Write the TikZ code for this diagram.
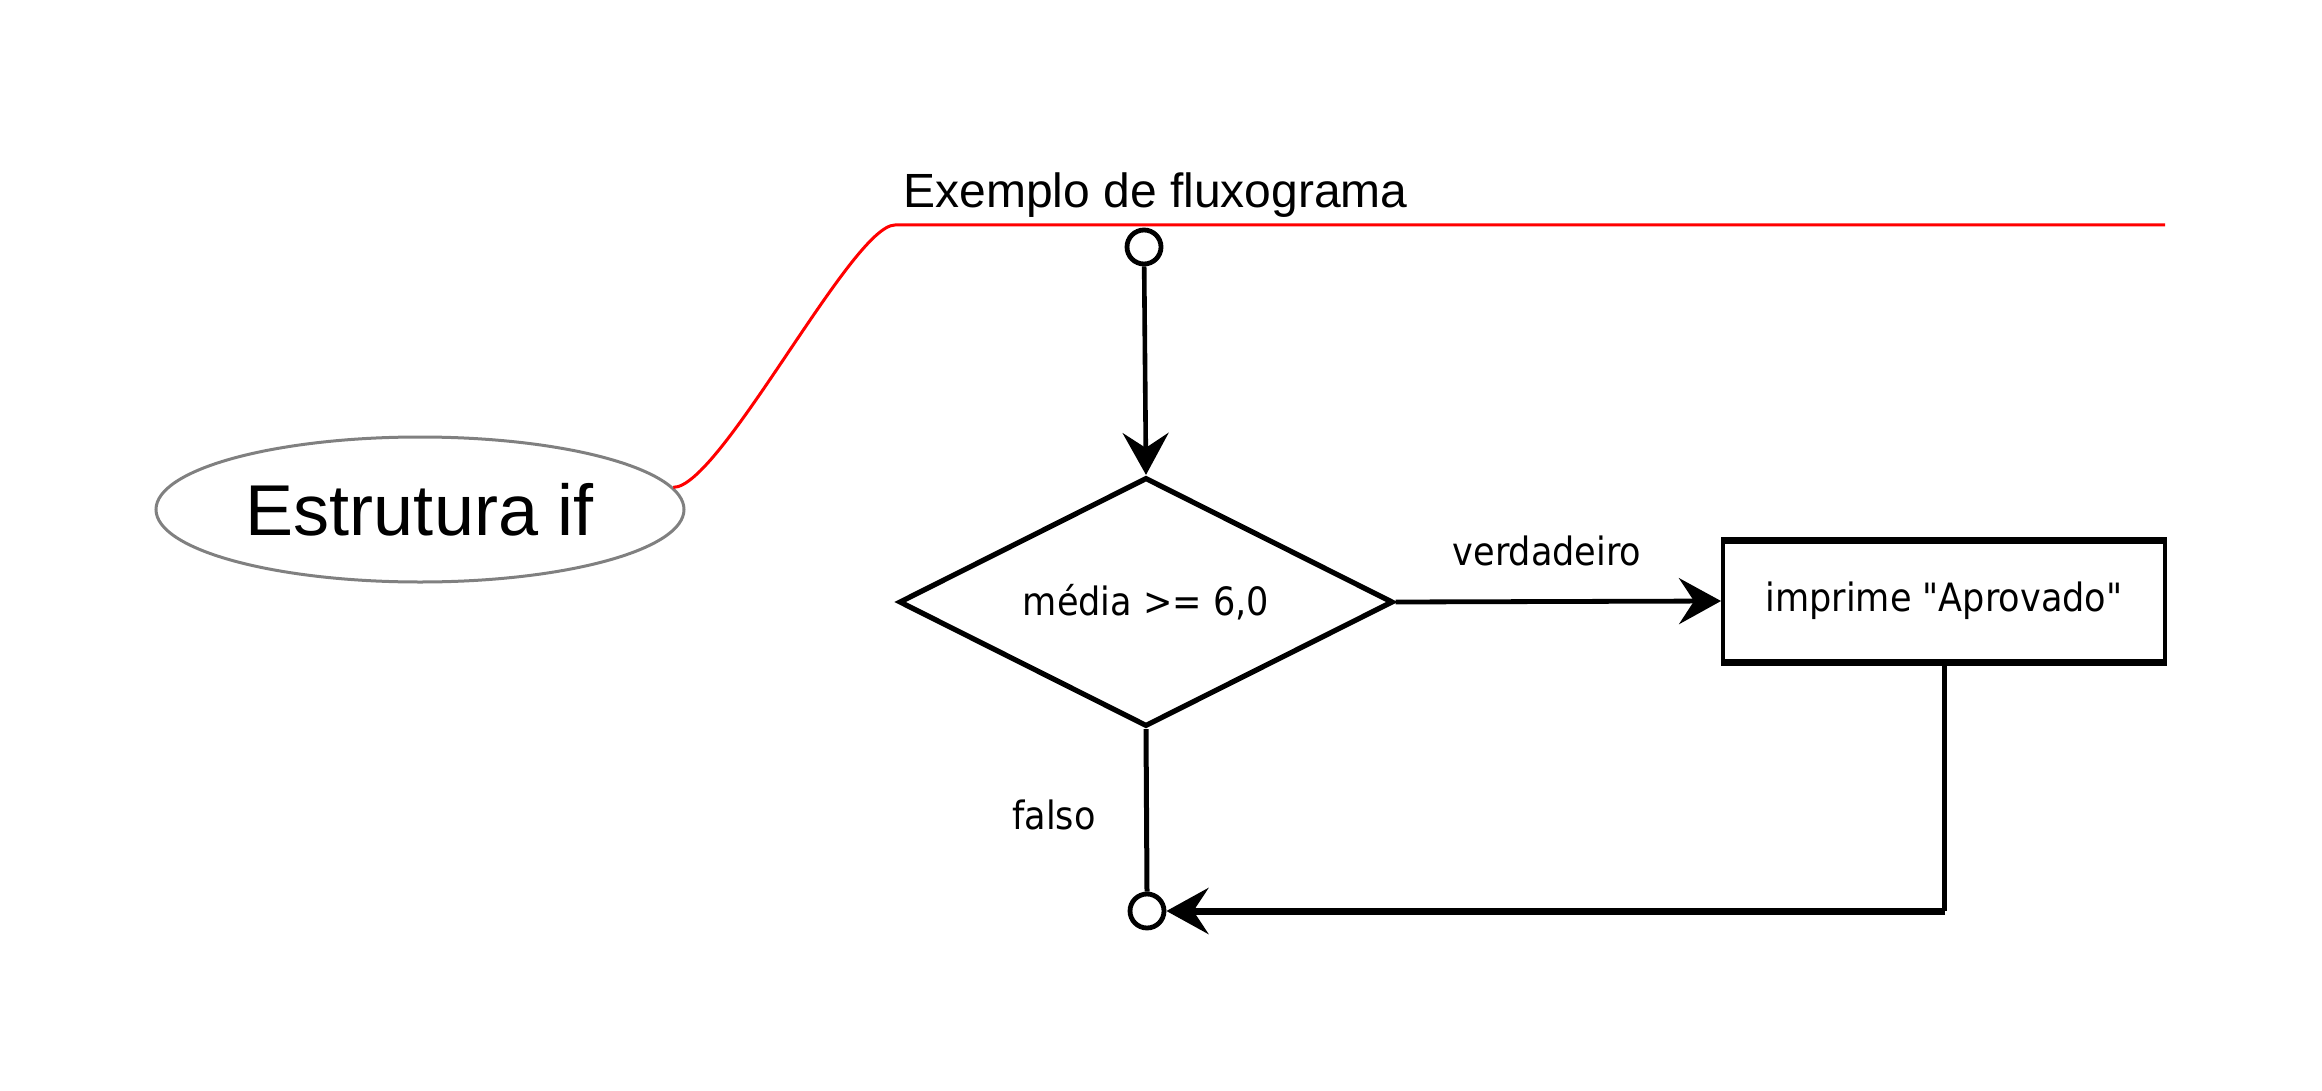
\documentclass[tikz,border=0pt]{standalone}
\usepackage{fontspec}
\setmainfont{Liberation Sans}
\newfontfamily\flowfont[FakeStretch=0.9]{DejaVu Sans}
\usetikzlibrary{shapes.geometric,arrows.meta,calc}
\definecolor{ellgray}{HTML}{808080}
\definecolor{linkred}{HTML}{FF0000}
\tikzset{
  mindnode/.style={ellipse, draw=ellgray, line width=1.5pt, minimum width=264pt,
    minimum height=72.5pt, inner sep=0pt, font=\fontsize{36pt}{40pt}\selectfont},
  titletext/.style={inner sep=0pt, anchor=base west, font=\fontsize{24pt}{29pt}\selectfont},
  link/.style={draw=linkred, line width=1.5pt},
  termcirc/.style={circle, draw=black, fill=white, line width=2.4pt, minimum size=17pt, inner sep=0pt},
  decision/.style={diamond, aspect=2, draw=black, line width=2.6pt, minimum width=247pt,
    minimum height=124.5pt, inner sep=0pt, font=\flowfont\fontsize{19.5pt}{23pt}\selectfont},
  process/.style={rectangle, draw=black, line width=2pt, minimum width=221pt,
    minimum height=59.5pt, inner sep=0pt, font=\flowfont\fontsize{19.5pt}{23pt}\selectfont},
  flowlabel/.style={inner sep=0pt, anchor=base, font=\flowfont\fontsize{19.5pt}{23pt}\selectfont},
  bigtip/.style={-{Stealth[length=21pt,width=23pt,inset=7.5pt]}},
}
\begin{document}
\begin{tikzpicture}[x=0.5pt,y=-0.5pt]
\useasboundingbox (0,0) rectangle (2322,1091);

% mind-map part
\node[mindnode] (ell) at (420,509.5) {Estrutura if};
\coordinate (tl) at (895,225);
\coordinate (tr) at (2165,225);
\draw[link] (ell.5) .. controls (720,488) and (852,225) .. (tl) -- (tr);
\node[titletext] (title) at (903,208) {Exemplo de fluxograma};

% flowchart
\node[termcirc] (start) at (1144,247) {};
\node[decision] (dec) at (1146,602) {média >= 6,0};
\node[process] (proc) at (1944,601) {imprime "Aprovado"};
\node[termcirc] (endc) at (1147,911) {};
\coordinate (corner) at (proc.south |- endc);

\draw[line width=2.3pt, bigtip] (start) -- (dec.north);
\draw[line width=2.4pt, bigtip] (dec.east) -- (proc.west);
\draw[line width=3pt] (proc.north west) -- (proc.north east);
\draw[line width=3pt] (proc.south west) -- (proc.south east);
\draw[line width=2.5pt] (dec.south) -- (endc.north);
\draw[line width=2.5pt] (proc.south) -- (corner);
\draw[line width=3.5pt, bigtip] ($(corner)+(1.2,0)$) -- (endc.east);

\node[flowlabel] (ltrue) at (1547,565) {verdadeiro};
\node[flowlabel] (lfalse) at (1054,829) {falso};
\end{tikzpicture}
\end{document}
